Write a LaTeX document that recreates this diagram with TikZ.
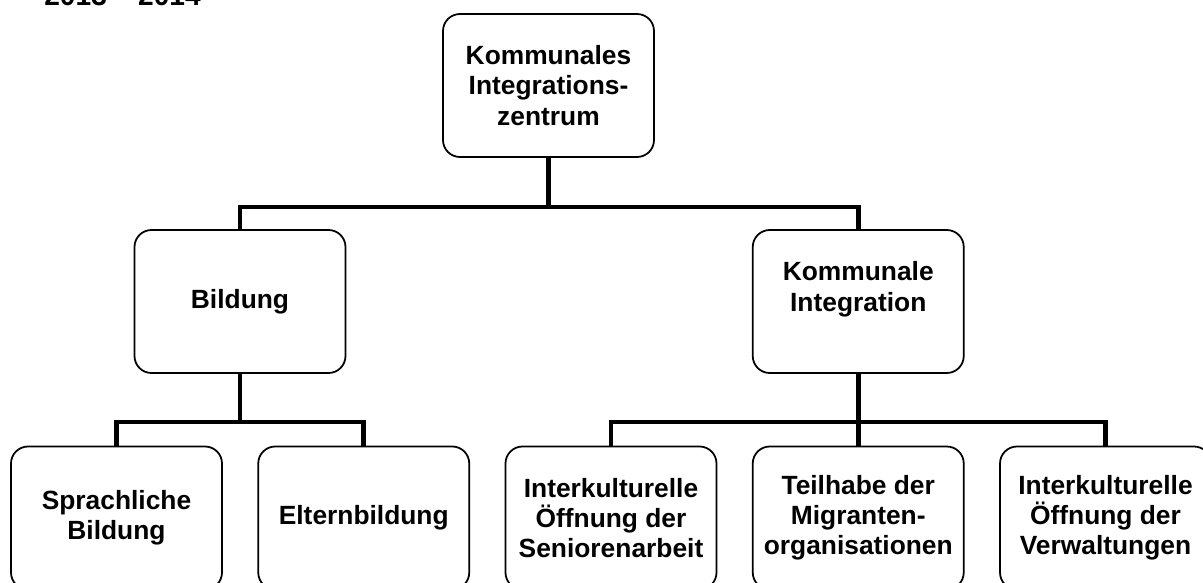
\documentclass[tikz,border=0pt]{standalone}
\usepackage{fontspec}
\setmainfont{Liberation Sans}
\usepackage{tikz}
\tikzstyle{orgbox} = [rectangle, rounded corners=0.34cm, minimum width=4.22cm, minimum height=2.86cm, inner sep=2pt, text centered, align=center, draw=black, line width=1pt, fill=white, font=\bfseries\fontsize{15}{17.2}\selectfont]
\tikzstyle{year} = [anchor=base west, inner sep=0pt, font=\bfseries\fontsize{16}{19}\selectfont]
\tikzstyle{link} = [line width=2.7pt, black]

\begin{document}
\begin{tikzpicture}[node distance=4.945cm]

\useasboundingbox (0,0) rectangle (24.06,-11.66);

%\node (year) ...
\node (year) [year] at (0.88,-0.12) {2013 – 2014};

% bottom row
\node (spr) [orgbox] at (2.33,-10.36) {Sprachliche\\Bildung};
\node (elt) [orgbox, right of=spr] {Elternbildung};
\node (sen) [orgbox, right of=elt] {Interkulturelle\\Öffnung der\\Seniorenarbeit};
\node (teil) [orgbox, right of=sen] {Teilhabe der\\Migranten-\\organisationen};
\node (verw) [orgbox, right of=teil] {Interkulturelle\\Öffnung der\\Verwaltungen};

% middle row
\node (bild) [orgbox, above of=spr, node distance=4.33cm, xshift=2.47cm] {Bildung};
\node (komint) [orgbox, above of=teil, node distance=4.33cm] {Kommunale\\Integration\\\mbox{}};

% top
\node (kiz) [orgbox, above of=bild, node distance=4.32cm, xshift=6.17cm] {Kommunales\\Integrations-\\zentrum};

\draw [link] (kiz.south) -- ++(0,-0.98) -| (bild.north);
\draw [link] (kiz.south) -- ++(0,-0.98) -| (komint.north);

\draw [link] (bild.south) -- ++(0,-0.96) -| (spr.north);
\draw [link] (bild.south) -- ++(0,-0.96) -| (elt.north);

\draw [link] (komint.south) -- ++(0,-0.96) -| (sen.north);
\draw [link] (komint.south) -- (teil.north);
\draw [link] (komint.south) -- ++(0,-0.96) -| (verw.north);

\end{tikzpicture}
\end{document}
